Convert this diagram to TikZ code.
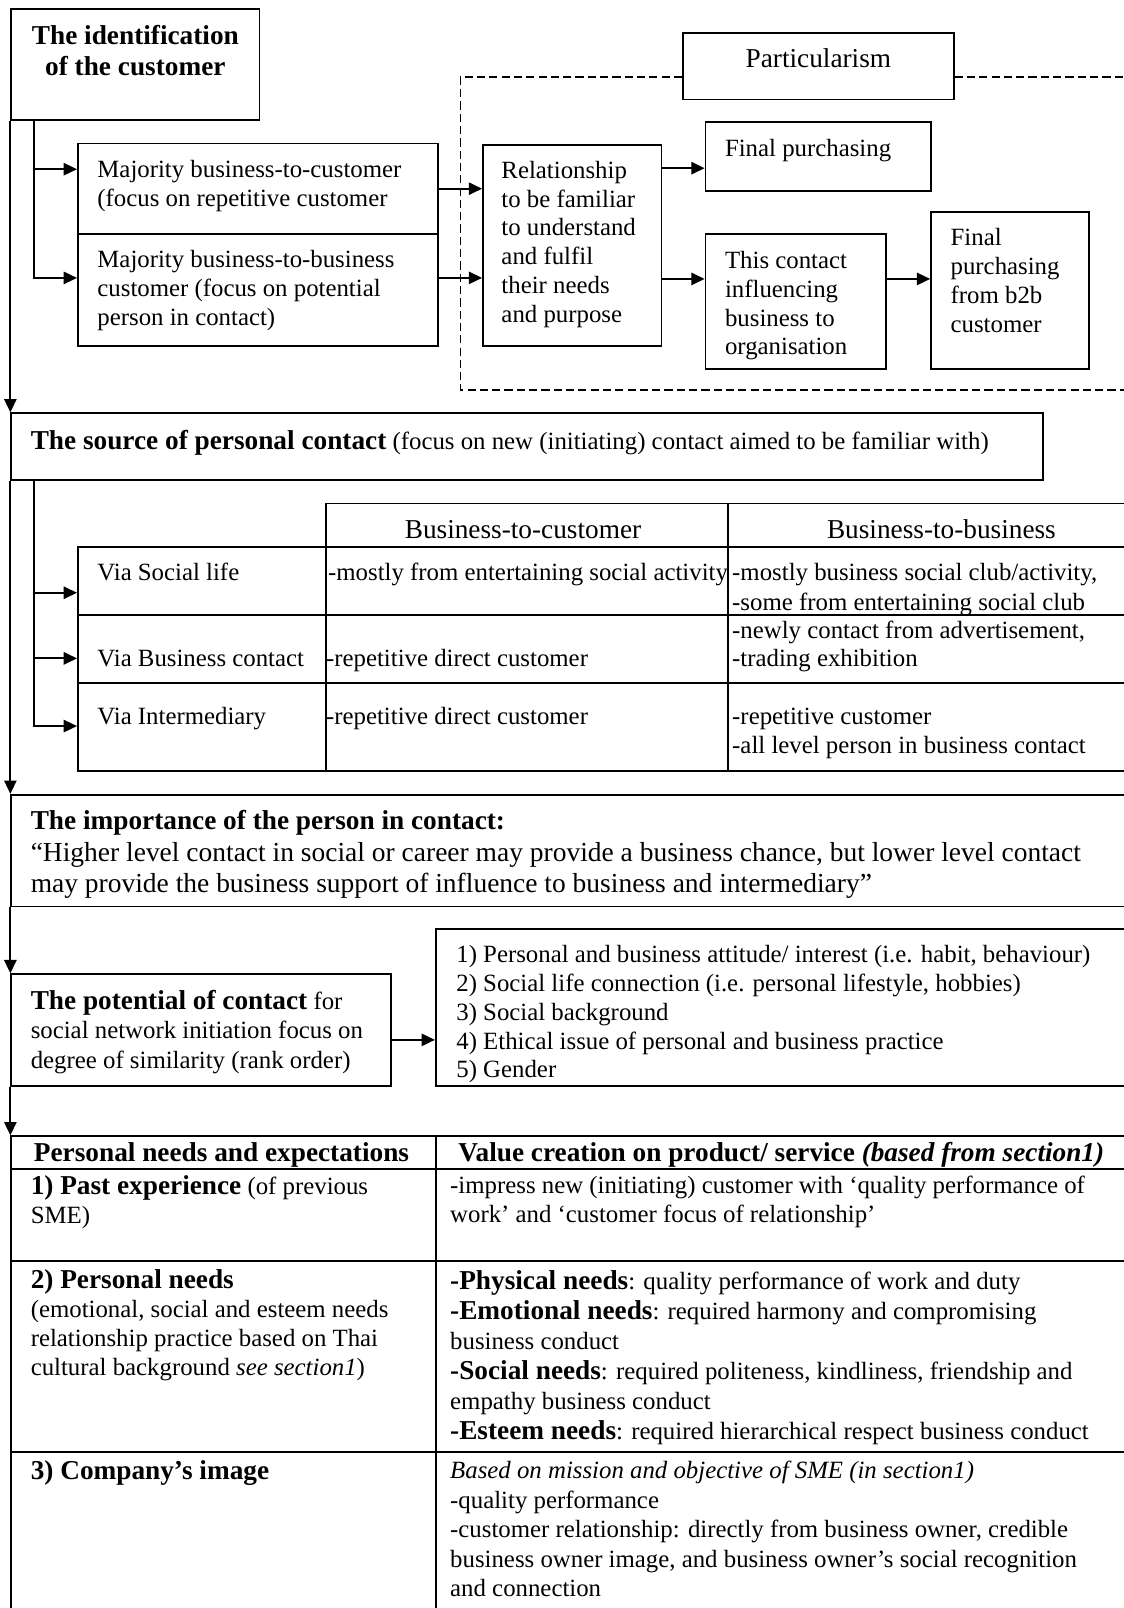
\documentclass[tikz,border=0pt]{standalone}
\usepackage{fontspec}
\setmainfont{Liberation Serif}
\usetikzlibrary{arrows.meta,fit}

% body text and bold runs
\newcommand\bodyfont{\fontsize{12.1}{14}\selectfont}
\newcommand\largefont{\fontsize{13.3}{15}\selectfont}
\newcommand\headfont{\fontsize{13.3}{15.5}\selectfont\bfseries}
\newcommand\heavy[1]{{\fontsize{13.3}{14}\selectfont\bfseries #1}}
% multi-line text block: name, x, y (baseline of first line), line spacing in pt, lines
\newcommand\tblock[5]{\node[txt,anchor=base west] (#1) at (#2,#3)
  {\fontsize{12.1}{#4}\selectfont\begin{tabular}[t]{@{}l@{}}#5\end{tabular}};}

\tikzset{
  box/.style={draw, line width=0.9pt, inner sep=0pt, rectangle},
  txt/.style={inner sep=0pt, outer sep=0pt, yshift=-1.5pt},
  arr/.style={line width=0.9pt, -{Triangle[length=6.5pt,width=6pt]}},
  dashedline/.style={line width=0.9pt, dash pattern=on 4pt off 2pt},
}

\begin{document}
\begin{tikzpicture}[x=0.5pt,y=-0.5pt]
\useasboundingbox (0,0) rectangle (1096,1568);
\clip (0,0) rectangle (1096,1568);

% ---------- identification of the customer ----------
\node[box, fit={(11,9) (253,117)}] (id) {};
\node[txt, anchor=base] (idt) at (132,40)
  {\headfont\begin{tabular}[t]{@{}c@{}}The identification\\of the customer\end{tabular}};

\node[box, fit={(666,32) (930,97)}] (part) {};
\node[txt, anchor=base] (partt) at (798,63) {\largefont Particularism};
\draw[dashedline] (part.west |- 0,75) -- (449,75) -- (449,380) -- (1100,380);
\draw[dashedline] (part.east |- 0,75) -- (1100,75);

\node[box, fit={(76,140) (427,228)}] (majA) {};
\node[box, fit={(76,228) (427,337)}] (majB) {};
\tblock{majAt}{95}{170}{14}{Majority business-to-customer\\(focus on repetitive customer}
\tblock{majBt}{95}{258}{14}{Majority business-to-business\\customer (focus on potential\\person in contact)}

\node[box, fit={(471,141) (645,337)}] (rel) {};
\tblock{relt}{489}{171}{14}{Relationship\\to be familiar\\to understand\\and fulfil\\their needs\\and purpose}

\node[box, fit={(688,119) (908,186)}] (fp) {};
\node[txt, anchor=base west] (fpt) at (707,150) {\bodyfont Final purchasing};

\node[box, fit={(688,228) (864,360)}] (tc) {};
\tblock{tct}{707}{259}{14}{This contact\\influencing\\business to\\organisation}

\node[box, fit={(908,207) (1062,360)}] (fb) {};
\tblock{fbt}{927}{236}{14.25}{Final\\purchasing\\from b2b\\customer}

\draw[arr] (id.south -| 33,0) |- (majA.west |- 0,165);
\draw[arr] (id.south -| 33,0) |- (majB.west |- 0,271);
\draw[arr] (majA.east |- 0,184) -- (rel.west |- 0,184);
\draw[arr] (majB.east |- 0,271) -- (rel.west |- 0,271);
\draw[arr] (rel.east |- 0,164) -- (fp.west |- 0,164);
\draw[arr] (rel.east |- 0,272) -- (tc.west |- 0,272);
\draw[arr] (tc.east |- 0,272) -- (fb.west |- 0,272);

% ---------- source of personal contact ----------
\node[box, fit={(11,403) (1017,468)}] (src) {};
\draw[arr] (id.south west) -- (src.north west);
\node[txt, anchor=base west] (srct) at (30,435)
  {\bodyfont\heavy{The source of personal contact} (focus on new (initiating) contact aimed to be familiar with)};

\node[box, fit={(318,491) (710,533)}] (h2) {};
\node[box, fit={(710,491) (1100,533)}] (h3) {};
\node[box, fit={(76,533) (318,600)}] (r1a) {};
\node[box, fit={(318,533) (710,600)}] (r1b) {};
\node[box, fit={(710,533) (1100,600)}] (r1c) {};
\node[box, fit={(76,600) (318,666)}] (r2a) {};
\node[box, fit={(318,600) (710,666)}] (r2b) {};
\node[box, fit={(710,600) (1100,666)}] (r2c) {};
\node[box, fit={(76,666) (318,752)}] (r3a) {};
\node[box, fit={(318,666) (710,752)}] (r3b) {};
\node[box, fit={(710,666) (1100,752)}] (r3c) {};

\draw[arr] (src.south -| 33,0) |- (r1a.west |- 0,578);
\draw[arr] (src.south -| 33,0) |- (r2a.west |- 0,642);
\draw[arr] (src.south -| 33,0) |- (r3a.west |- 0,708);

\node[txt, anchor=base] (h2t) at (510,522) {\largefont Business-to-customer};
\node[txt, anchor=base] (h3t) at (918,522) {\largefont Business-to-business};
\node[txt, anchor=base west] (r1at) at (95,563) {\bodyfont Via Social life};
\node[txt, anchor=base west] (r1bt) at (320,563) {\bodyfont -mostly from entertaining social activity};
\tblock{r1ct}{714}{563}{14.5}{-mostly business social club/activity,\\-some from entertaining social club}
\node[txt, anchor=base west] (r2at) at (95,647) {\bodyfont Via Business contact};
\node[txt, anchor=base west] (r2bt) at (318,647) {\bodyfont -repetitive direct customer};
\tblock{r2ct}{714}{620}{13.5}{-newly contact from advertisement,\\-trading exhibition}
\node[txt, anchor=base west] (r3at) at (95,703) {\bodyfont Via Intermediary};
\node[txt, anchor=base west] (r3bt) at (318,703) {\bodyfont -repetitive direct customer};
\tblock{r3ct}{714}{703}{14.5}{-repetitive customer\\-all level person in business contact}

% ---------- importance of the person in contact ----------
\node[box, fit={(11,775) (1100,884)}] (imp) {};
\draw[arr] (src.south west) -- (imp.north west);
\node[txt, anchor=base west] (impt) at (30,806) {\bodyfont\heavy{The importance of the person in contact:}};
\node[txt, anchor=base west] (impq) at (30,837)
  {\fontsize{13.4}{15}\selectfont\begin{tabular}[t]{@{}l@{}}“Higher level contact in social or career may provide a business chance, but lower level contact\\may provide the business support of influence to business and intermediary”\end{tabular}};

% ---------- potential of contact ----------
\node[box, fit={(11,950) (381,1059)}] (pot) {};
\draw[arr] (imp.south west) -- (pot.north west);
\tblock{pott}{30}{981}{14.5}{\heavy{The potential of contact} for\\social network initiation focus on\\degree of similarity (rank order)}

\node[box, fit={(425,906) (1100,1059)}] (lst) {};
\tblock{lstt}{445}{936}{14}{1) Personal and business attitude/ interest (i.e. habit, behaviour)\\2) Social life connection (i.e. personal lifestyle, hobbies)\\3) Social background\\4) Ethical issue of personal and business practice\\5) Gender}
\draw[arr] (pot.east |- 0,1014) -- (lst.west |- 0,1014);

% ---------- needs and value creation table ----------
\node[box, fit={(11,1108) (425,1140)}] (fh1) {};
\node[box, fit={(425,1108) (1100,1140)}] (fh2) {};
\node[box, fit={(11,1140) (425,1230)}] (f1a) {};
\node[box, fit={(425,1140) (1100,1230)}] (f1b) {};
\node[box, fit={(11,1230) (425,1416)}] (f2a) {};
\node[box, fit={(425,1230) (1100,1416)}] (f2b) {};
\node[box, fit={(11,1416) (425,1600)}] (f3a) {};
\node[box, fit={(425,1416) (1100,1600)}] (f3b) {};
\draw[arr] (pot.south west) -- (fh1.north west);

\node[txt, anchor=base] (fh1t) at (216,1130) {\heavy{Personal needs and expectations}};
\node[txt, anchor=base west] (fh2t) at (447,1130) {\heavy{Value creation on product/ service \textit{(based from section1)}}};

\tblock{f1at}{30}{1162}{14}{\heavy{1) Past experience} (of previous\\SME)}
\tblock{f1bt}{439}{1161}{14}{-impress new (initiating) customer with ‘quality performance of\\work’ and ‘customer focus of relationship’}

\tblock{f2at}{30}{1253}{14.25}{\heavy{2) Personal needs}\\(emotional, social and esteem needs\\relationship practice based on Thai\\cultural background \textit{see section1})}
\tblock{f2bt}{439}{1254}{14.7}{\heavy{-Physical needs}: quality performance of work and duty\\\heavy{-Emotional needs}: required harmony and compromising\\business conduct\\\heavy{-Social needs}: required politeness, kindliness, friendship and\\empathy business conduct\\\heavy{-Esteem needs}: required hierarchical respect business conduct}

\tblock{f3at}{30}{1440}{14}{\heavy{3) Company’s image}}
\tblock{f3bt}{439}{1439}{14.4}{\textit{Based on mission and objective of SME (in section1)}\\-quality performance\\-customer relationship: directly from business owner, credible\\business owner image, and business owner’s social recognition\\and connection}

\end{tikzpicture}
\end{document}
